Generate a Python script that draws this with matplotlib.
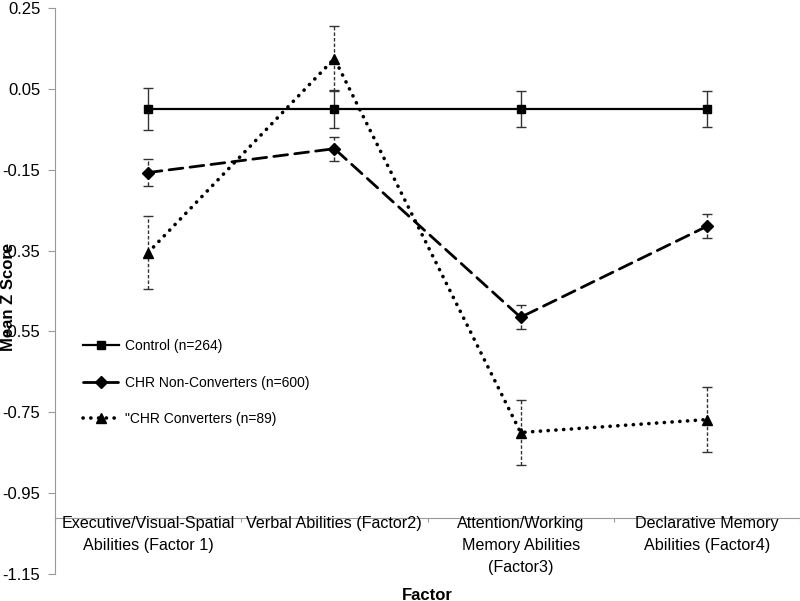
# ================================================================
# 0. Section: IMPORTS
# ================================================================
import numpy as np
import matplotlib
matplotlib.use("Agg")
from matplotlib import pyplot as plt
from matplotlib.transforms import ScaledTranslation


# ================================================================
# 1. Section: INPUTS
# ================================================================
FACTORS: list[str] = [
    "Executive/Visual-Spatial\nAbilities (Factor 1)",
    "Verbal Abilities (Factor2)",
    "Attention/Working\nMemory Abilities\n(Factor3)",
    "Declarative Memory\nAbilities (Factor4)",
]

LABELS: list[str] = [
    "Control (n=264)",
    "CHR Non-Converters (n=600)",
    "\"CHR Converters (n=89)",
]

control_mean = [0.0, 0.0, 0.0, 0.0]
control_err = [0.053, 0.047, 0.045, 0.045]

nonconv_mean = [-0.157, -0.098, -0.515, -0.290]
nonconv_err = [0.033, 0.030, 0.030, 0.030]

conv_mean = [-0.355, 0.125, -0.800, -0.768]
conv_err = [0.090, 0.080, 0.080, 0.080]

Y_TICKS = [0.25, 0.05, -0.15, -0.35, -0.55, -0.75, -0.95, -1.15]
X_AXIS_AT = -1.0125  # the category axis crosses here, like in Excel


# ================================================================
# 2. Section: FUNCTIONS
# ================================================================
def draw_series(ax, x, y, err, ls, marker, ms, lw, err_ls):
    line, caps, bars = ax.errorbar(
        x, y, yerr=err, color="black", linestyle=ls, linewidth=lw,
        marker=marker, markersize=ms, ecolor="#333333", elinewidth=1,
        capsize=3.5, capthick=1)
    line.set_dash_capstyle("round")
    bars[0].set_linestyle(err_ls)
    return line


# ================================================================
# 3. Section: MAIN
# ================================================================
if __name__ == '__main__':
    plt.rcParams['font.family'] = ['Liberation Sans', 'DejaVu Sans']

    fig = plt.figure(figsize=(8.0, 6.01), dpi=100)
    ax = fig.add_axes([55 / 800, 1 - 574 / 601, 745 / 800, 566 / 601])

    x = np.arange(len(FACTORS))

    h1 = draw_series(ax, x, control_mean, control_err, "-", "s", 6, 1.6, "-")
    h2 = draw_series(ax, x, nonconv_mean, nonconv_err, (0, (5, 2.6)), "D", 6, 2.0,
                     (0, (3, 2)))
    h3 = draw_series(ax, x, conv_mean, conv_err, (0, (0.05, 2.1)), "^", 7, 2.6,
                     (0, (2.5, 1.5)))

    ax.set_xlim(-0.5, len(FACTORS) - 0.5)
    ax.set_ylim(-1.15, 0.25)
    ax.set_yticks(Y_TICKS)
    ax.set_yticklabels([f"{v:.2f}" for v in Y_TICKS])

    # tick marks at the category boundaries, names drawn under the centres
    ax.set_xticks(np.arange(len(FACTORS) + 1) - 0.5)
    ax.set_xticklabels([])
    ax.tick_params(axis="x", which="major", length=3, color="#999999")
    ax.tick_params(axis="y", length=5, color="#999999", labelsize=12, pad=5.5)
    shift = ScaledTranslation(0, 0.02, fig.dpi_scale_trans)
    for xi, name in zip(x, FACTORS):
        ax.text(xi, X_AXIS_AT, name, ha="center", va="top", fontsize=11.6,
                linespacing=1.58, transform=ax.transData + shift)

    for s in ["top", "right"]:
        ax.spines[s].set_visible(False)
    ax.spines["bottom"].set_position(("data", X_AXIS_AT))
    ax.spines["bottom"].set_color("#999999")
    ax.spines["left"].set_color("#999999")

    ax.set_ylabel("Mean Z Score", fontsize=12, fontweight="bold")
    ax.yaxis.set_label_coords(-0.053, 0.489)
    ax.set_xlabel("Factor", fontsize=12, fontweight="bold")
    ax.xaxis.set_label_coords(0.5, -0.024)

    ax.legend([h1, h2, h3], LABELS, loc="upper left", bbox_to_anchor=(0.021, 0.437),
              frameon=False, fontsize=10, handlelength=2.6, labelspacing=1.62,
              handletextpad=0.4)

    fig.savefig("out.png", dpi=100)
